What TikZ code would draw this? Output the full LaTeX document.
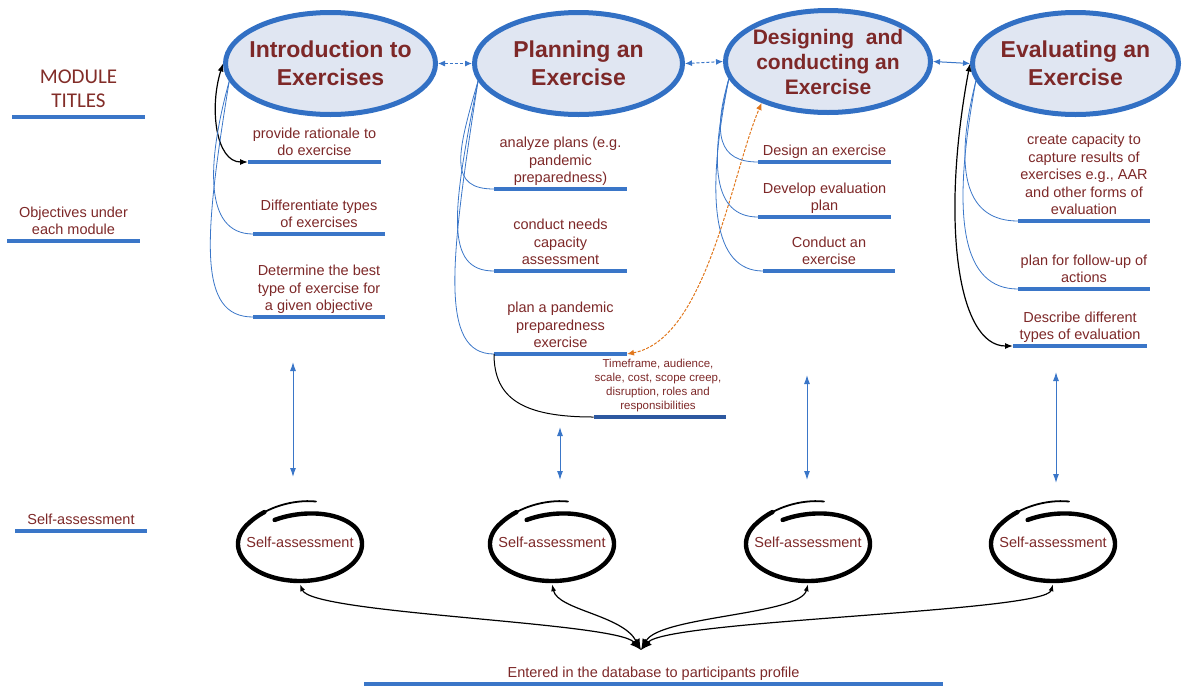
\documentclass[tikz,border=0pt]{standalone}
\usepackage{fontspec}
\setmainfont{Liberation Sans}
\newfontfamily\calib{Carlito}
\usetikzlibrary{arrows.meta,shapes.geometric,calc}
\definecolor{tred}{RGB}{125,40,40}
\definecolor{tredl}{RGB}{130,45,40}
\definecolor{lblue}{RGB}{58,118,200}
\definecolor{eblue}{RGB}{50,112,196}
\definecolor{efill}{RGB}{224,230,242}
\definecolor{dblue}{RGB}{45,88,160}
\definecolor{orng}{RGB}{225,120,30}
\newcommand\ml[1]{\begin{tabular}[b]{@{}c@{}}#1\end{tabular}}
\newcommand\obj[5]{%
  \node[objline, minimum width=#4pt] (#1) at (#2,#3) {};
  \node[objtext] (#1t) at (#2,{#3-6.5}) {\ml{#5}};}
\newcommand\swirl[2]{%
  \draw[line width=1.8pt, line cap=round] plot[domain=-10:45, samples=14, variable=\u]
    ({#1+62*cos(275-\u)},{#2+(37+6*max(0,60-\u)/60)*sin(275-\u)});
  \draw[line width=4.4pt, line cap=round] plot[domain=40:392, samples=150, variable=\u]
    ({#1+(62-6*max(0,\u-300)/92)*cos(275-\u)},{#2+(37+6*max(0,60-\u)/60-10*max(0,\u-300)/92)*sin(275-\u)});}
\begin{document}
\begin{tikzpicture}[x=1pt,y=-1pt,
  modell/.style={ellipse, draw=eblue, line width=5pt, fill=efill, inner sep=0pt},
  mtitle/.style={font=\fontsize{23}{28}\selectfont\bfseries, text=tred, align=center, inner sep=0pt},
  objline/.style={fill=lblue, minimum height=4.5pt, inner sep=0pt, outer sep=0pt},
  objtext/.style={font=\fontsize{14.5}{17.5}\selectfont, text=tred, inner sep=0pt, anchor=base},
  bconn/.style={draw=lblue, line width=0.8pt},
  blk/.style={draw=black, line width=1pt},
  blkarr/.style={draw=black, line width=1.2pt, {Latex[length=8pt,width=6pt]}-{Latex[length=8pt,width=6pt]}},
  harrow/.style={draw=lblue, line width=1pt, dash pattern=on 3pt off 2pt, {Latex[length=7pt,width=6pt]}-{Latex[length=7pt,width=6pt]}},
  harrows/.style={draw=lblue, line width=1pt, {Latex[length=7pt,width=6pt]}-{Latex[length=7pt,width=6pt]}},
  varrow/.style={draw=lblue, line width=1pt, {Latex[length=9pt,width=6pt]}-{Latex[length=9pt,width=6pt]}},
  orarr/.style={draw=orng, line width=1pt, dash pattern=on 3pt off 1.5pt, {Latex[length=7pt,width=6pt]}-{Latex[length=7pt,width=6pt]}},
  dbarr/.style={draw=black, line width=1.2pt, {Latex[length=11pt,width=9pt]}-{Latex[length=7pt,width=5pt]}},
  satext/.style={font=\fontsize{14.5}{17.5}\selectfont, text=tred, inner sep=0pt, minimum height=84pt}
]
\useasboundingbox (0,0) rectangle (1183,686);

% ---- module ellipses
\node[modell, minimum width=210pt, minimum height=102pt] (m1) at (330.5,63.5) {};
\node[mtitle] (m1t) at (m1.center) {Introduction to\\Exercises};
\node[modell, minimum width=208pt, minimum height=102pt] (m2) at (578.5,63.5) {};
\node[mtitle] (m2t) at (m2.center) {Planning an\\Exercise};
\node[modell, minimum width=205pt, minimum height=102pt] (m3) at (828,61.5) {};
\node[mtitle, font=\fontsize{21}{25}\selectfont\bfseries] (m3t) at (m3.center) {Designing~ and\\conducting an\\Exercise};
\node[modell, minimum width=206pt, minimum height=102pt] (m4) at (1075.5,63.5) {};
\node[mtitle] (m4t) at (m4.center) {Evaluating an\\Exercise};

\draw[harrow] (m1.east) -- (m2.west);
\draw[harrow] (m2.east) -- (m3.west);
\draw[harrows] (m3.east) -- (m4.west);

% ---- left labels
\node[objline, minimum width=133pt] (L1) at (78.5,117) {};
\node[text=tredl, font=\calib\fontsize{21}{24}\selectfont, inner sep=0pt, anchor=base] (L1t) at (78.5,107.5) {\ml{MODULE\\TITLES}};
\obj{L2}{73.5}{241}{133}{Objectives under\\each module}
\obj{L3}{81}{531}{132}{Self-assessment}

% ---- objectives
\obj{i1}{314.5}{162}{133}{provide rationale to\\do exercise}
\obj{i2}{319}{234}{132}{Differentiate types\\of exercises}
\obj{i3}{319}{317}{132}{Determine the best\\type of exercise for\\a given objective}
\obj{p1}{560.5}{189}{133}{analyze plans (e.g.\\pandemic\\preparedness)}
\obj{p2}{560.5}{271}{133}{conduct needs\\capacity\\assessment}
\obj{p3}{560.5}{354}{133}{plan a pandemic\\preparedness\\exercise}
\node[objline, fill=dblue, minimum width=132pt] (t) at (659.5,417) {};
\node[objtext, font=\fontsize{11.5}{13.7}\selectfont] (tt) at (658,409) {\ml{Timeframe, audience,\\scale, cost, scope creep,\\disruption, roles and\\responsibilities}};
\obj{d1}{824.5}{162}{133}{Design an exercise}
\obj{d2}{824.5}{217}{133}{Develop evaluation\\plan}
\obj{d3}{829}{271}{132}{Conduct an\\exercise}
\obj{e1}{1084}{221}{132}{create capacity to\\capture results of\\exercises e.g., AAR\\and other forms of\\evaluation}
\obj{e2}{1084}{289}{132}{plan for follow-up of\\actions}
\obj{e3}{1080}{346}{134}{Describe different\\types of evaluation}

% ---- connectors from modules to objectives
\draw[blkarr] (m1.west) .. controls +(-14,45) and +(-32,0) .. (i1.west);
\draw[bconn] (m1.190) .. controls +(-22,80) and +(-50,0) .. (i2.west);
\draw[bconn] (m1.190) .. controls +(-26,160) and +(-55,0) .. (i3.west);

\draw[bconn] (m2.190) .. controls +(-22,75) and +(-45,0) .. (p1.west);
\draw[bconn] (m2.190) .. controls +(-26,130) and +(-50,0) .. (p2.west);
\draw[bconn] (m2.190) .. controls +(-28,180) and +(-55,0) .. (p3.west);
\draw[blk] (p3.west) .. controls +(0,45) and +(-70,0) .. (t.west);
\draw[orarr] (p3.east) .. controls +(80,-15) and +(-30,70) .. (m3.212);

\draw[bconn] (m3.190) .. controls +(-16,55) and +(-40,0) .. (d1.west);
\draw[bconn] (m3.190) .. controls +(-20,85) and +(-45,0) .. (d2.west);
\draw[bconn] (m3.190) .. controls +(-24,120) and +(-50,0) .. (d3.west);

\draw[bconn] (m4.190) .. controls +(-24,95) and +(-50,0) .. (e1.west);
\draw[bconn] (m4.190) .. controls +(-26,140) and +(-55,0) .. (e2.west);
\draw[blkarr] (m4.west) .. controls +(-30,160) and +(-55,0) .. (e3.west);

% ---- vertical arrows
\coordinate (va1a) at (293,362); \coordinate (va1b) at (293,477);
\coordinate (va2a) at (560,427); \coordinate (va2b) at (560,480);
\coordinate (va3a) at (807,375); \coordinate (va3b) at (807,480);
\coordinate (va4a) at (1056,372); \coordinate (va4b) at (1056,483);
\draw[varrow] (va1a) -- (va1b);
\draw[varrow] (va2a) -- (va2b);
\draw[varrow] (va3a) -- (va3b);
\draw[varrow] (va4a) -- (va4b);

% ---- self-assessment circles
\node[satext] (s1) at (300,542) {Self-assessment};
\node[satext] (s2) at (552,542) {Self-assessment};
\node[satext] (s3) at (808,542) {Self-assessment};
\node[satext] (s4) at (1053,542) {Self-assessment};
\swirl{300}{544}
\swirl{552}{544}
\swirl{808}{544}
\swirl{1053}{544}

% ---- database
\coordinate (db) at (641,650);
\draw[dbarr] (db) .. controls (616,622) and (312,614) .. (s1.south);
\draw[dbarr] (db) .. controls (622,615) and (558,610) .. (s2.south);
\draw[dbarr] (db) .. controls (660,616) and (800,615) .. (s3.south);
\draw[dbarr] (db) .. controls (668,620) and (1045,612) .. (s4.south);
\obj{bot}{653.5}{684}{579}{Entered in the database to participants profile}
\end{tikzpicture}
\end{document}
